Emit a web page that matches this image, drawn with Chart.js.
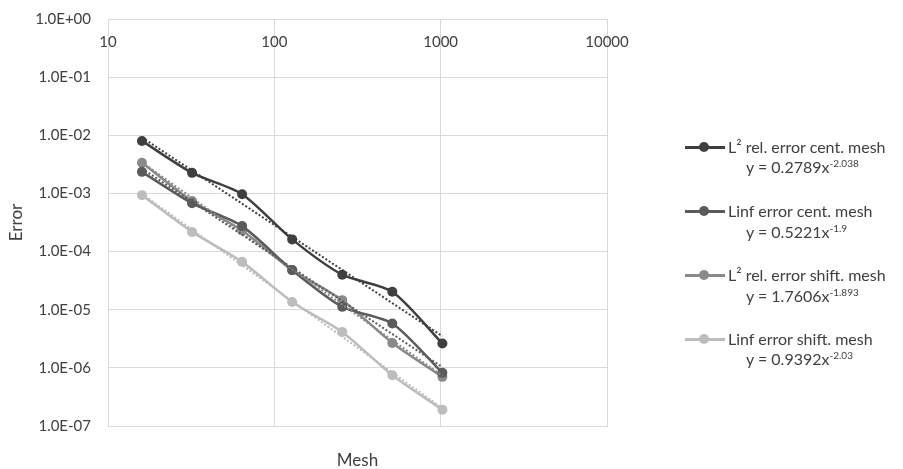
<!DOCTYPE html>
<html>
<head>
<meta charset="utf-8">
<script src="https://cdn.jsdelivr.net/npm/chart.js@4"></script>
<style>
  body { margin: 0; background: #fff; }
  #wrap { position: relative; width: 903px; height: 469px; font-family: Lato, "Open Sans", sans-serif; color: #404040; }
  #wrap canvas { position: absolute; left: 0; top: 0; }
  .leg { position: absolute; font-size: 16px; line-height: 18px; white-space: nowrap; }
  .leg sup { font-size: 10px; vertical-align: 6px; line-height: 0; }
  .swatch { position: absolute; left: 685px; width: 40px; height: 2.5px; }
  .dot { position: absolute; width: 10px; height: 10px; border-radius: 50%; }
</style>
</head>
<body>
<div id="wrap">
  <canvas id="errorChart" width="903" height="469"></canvas>
</div>
<script>
// mesh sizes (x) and the four error series
var meshSizes = [16, 32, 64, 128, 256, 512, 1024];
var l2Cent   = [8.0e-3, 2.26e-3, 9.7e-4, 1.62e-4, 4.0e-5, 2.03e-5, 2.62e-6];
var linfCent = [2.35e-3, 6.8e-4, 2.74e-4, 4.8e-5, 1.12e-5, 5.8e-6, 8.2e-7];
var l2Shift  = [3.36e-3, 7.4e-4, 2.3e-4, 4.8e-5, 1.46e-5, 2.68e-6, 7.0e-7];
var linfShift = [9.35e-4, 2.18e-4, 6.65e-5, 1.36e-5, 4.15e-6, 7.46e-7, 1.91e-7];

// dotted power trendlines: value at first and last mesh size
var trendEnds = [16, 1024];
var l2CentTrend   = [9.2e-3, 3.5e-6];
var linfCentTrend = [2.68e-3, 1.03e-6];
var l2ShiftTrend  = [3.43e-3, 7.3e-7];
var linfShiftTrend = [9.84e-4, 2.02e-7];

var seriesNames = ['L\u00b2 rel. error cent. mesh', 'Linf error cent. mesh', 'L\u00b2 rel. error shift. mesh', 'Linf error shift. mesh'];
var trendCoef = ['0.2789', '0.5221', '1.7606', '0.9392'];
var trendExp = ['-2.038', '-1.9', '-1.893', '-2.03'];

// axis ticks
var meshTicks = [10, 100, 1000, 10000];
var errorTicks = [1e-7, 1e-6, 1e-5, 1e-4, 1e-3, 1e-2, 1e-1, 1e0];

var colors = ['#3f3f3f', '#5b5b5b', '#8a8a8a', '#bdbdbd'];
var gridColor = '#d9d9d9';
var textColor = '#404040';
var fontFamily = 'Lato, "Open Sans", sans-serif';

function toPoints(xs, ys) {
    return xs.map(function (x, i) { return { x: x, y: ys[i] }; });
}

function fmtE(v) {
    var e = Math.round(Math.log10(v));
    return '1.0E' + (e < 0 ? '-' : '+') + String(Math.abs(e)).padStart(2, '0');
}

var seriesData = [l2Cent, linfCent, l2Shift, linfShift];
var trendData = [l2CentTrend, linfCentTrend, l2ShiftTrend, linfShiftTrend];

var datasets = [];
seriesData.forEach(function (ys, i) {
    datasets.push({
        label: seriesNames[i],
        data: toPoints(meshSizes, ys),
        borderColor: colors[i],
        backgroundColor: colors[i],
        borderWidth: 2.5,
        pointRadius: 5,
        pointHoverRadius: 5,
        pointBorderWidth: 0,
        tension: 0.25,
        order: 2 + i
    });
});
trendData.forEach(function (ys, i) {
    datasets.push({
        label: 'trend ' + seriesNames[i],
        data: toPoints(trendEnds, ys),
        borderColor: colors[i],
        borderWidth: 2,
        borderDash: [2, 2],
        pointRadius: 0,
        order: 1
    });
});

// x tick labels sit just under the top edge of the plot
var topTicks = {
    id: 'topTicks',
    afterDraw: function (chart) {
        var ctx = chart.ctx, x = chart.scales.x, area = chart.chartArea;
        ctx.save();
        ctx.font = '15px ' + fontFamily;
        ctx.fillStyle = textColor;
        ctx.textAlign = 'center';
        ctx.textBaseline = 'middle';
        meshTicks.forEach(function (v) {
            ctx.fillText(String(v), x.getPixelForValue(v), area.top + 23);
        });
        ctx.restore();
    }
};

var ctx = document.getElementById('errorChart').getContext('2d');
var errorChart = new Chart(ctx, {
    type: 'line',
    data: { datasets: datasets },
    plugins: [topTicks],
    options: {
        responsive: false,
        animation: false,
        layout: { padding: { left: 0, right: 296, top: 19, bottom: 0 } },
        plugins: { legend: { display: false }, tooltip: { enabled: false } },
        scales: {
            x: {
                type: 'logarithmic',
                min: 10,
                max: 10000,
                afterBuildTicks: function (scale) {
                    scale.ticks = meshTicks.map(function (v) { return { value: v }; });
                },
                afterFit: function (scale) {
                    scale.height = 43;
                    scale.paddingLeft = 0;
                    scale.paddingRight = 0;
                },
                ticks: { display: false },
                grid: { color: gridColor, lineWidth: 1, drawTicks: false },
                border: { color: gridColor, width: 1 },
                title: {
                    display: true,
                    text: 'Mesh',
                    color: textColor,
                    font: { family: fontFamily, size: 17 },
                    padding: { top: 0, bottom: -2 }
                }
            },
            y: {
                type: 'logarithmic',
                min: 1e-7,
                max: 1,
                afterBuildTicks: function (scale) {
                    scale.ticks = errorTicks.map(function (v) { return { value: v }; });
                },
                afterFit: function (scale) {
                    scale.width = 108;
                    scale.paddingTop = 0;
                    scale.paddingBottom = 0;
                },
                ticks: {
                    color: textColor,
                    font: { family: fontFamily, size: 15 },
                    padding: 17,
                    callback: function (v) { return fmtE(v); }
                },
                grid: { color: gridColor, lineWidth: 1, drawTicks: false },
                border: { color: gridColor, width: 1 },
                title: {
                    display: true,
                    text: 'Error',
                    color: textColor,
                    font: { family: fontFamily, size: 17 },
                    padding: { top: 6, bottom: 0 }
                }
            }
        }
    }
});

// legend on the right, built from the series names and trendline equations
var wrap = document.getElementById('wrap');
var entryY = [147, 211, 275, 339];
var eqY = [167, 232, 296, 359];
seriesNames.forEach(function (name, i) {
    var sw = document.createElement('div');
    sw.className = 'swatch';
    sw.style.top = (entryY[i] - 1) + 'px';
    sw.style.background = colors[i];
    wrap.appendChild(sw);

    var dot = document.createElement('div');
    dot.className = 'dot';
    dot.style.left = '699px';
    dot.style.top = (entryY[i] - 5) + 'px';
    dot.style.background = colors[i];
    wrap.appendChild(dot);

    var lab = document.createElement('div');
    lab.className = 'leg';
    lab.style.left = '728px';
    lab.style.top = (entryY[i] - 9) + 'px';
    lab.textContent = name;
    wrap.appendChild(lab);

    var eq = document.createElement('div');
    eq.className = 'leg';
    eq.style.left = '746px';
    eq.style.top = (eqY[i] - 9) + 'px';
    eq.innerHTML = 'y = ' + trendCoef[i] + 'x<sup>' + trendExp[i] + '</sup>';
    wrap.appendChild(eq);
});
</script>
</body>
</html>
